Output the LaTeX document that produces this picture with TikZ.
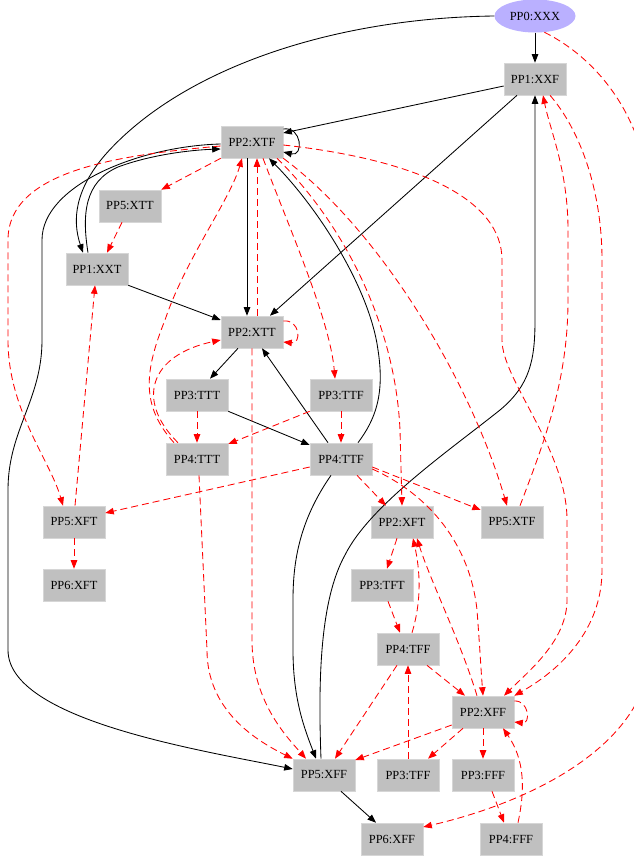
\documentclass[tikz,border=0pt]{standalone}
\usepackage{fontspec}
\setmainfont{Liberation Serif}
\usetikzlibrary{arrows.meta,shapes.geometric}

\definecolor{boxgray}{RGB}{192,192,192}
\definecolor{boxedge}{RGB}{214,214,214}
\definecolor{entryblue}{RGB}{186,176,255}

\begin{document}
\begin{tikzpicture}[
    x=1pt, y=-1pt,
    font=\fontsize{12.4}{14}\selectfont,
    ppbox/.style={
        draw=boxedge,
        line width=0.6pt,
        fill=boxgray,
        minimum width=62pt,
        minimum height=32pt,
        inner sep=0pt
    },
    entry/.style={ellipse, fill=entryblue, minimum width=81pt, minimum height=33pt, inner sep=0pt},
    flow/.style={-{Triangle[length=8.5pt,width=6.5pt]}, line width=0.85pt},
    flowneg/.style={flow, red, dash pattern=on 7pt off 4pt}
]

\path[use as bounding box] (0,0) rectangle (634,860);
\clip (0,0) rectangle (634,860);

\node[entry] (pp0xxx) at (535,16) {PP0:XXX};
\node[ppbox] (pp1xxf) at (535,79) {PP1:XXF};
\node[ppbox] (pp2xtf) at (252,142) {PP2:XTF};
\node[ppbox] (pp5xtt) at (130,206) {PP5:XTT};
\node[ppbox] (pp1xxt) at (97,269) {PP1:XXT};
\node[ppbox] (pp2xtt) at (252,332) {PP2:XTT};
\node[ppbox] (pp3ttt) at (197,395) {PP3:TTT};
\node[ppbox] (pp3ttf) at (341,395) {PP3:TTF};
\node[ppbox] (pp4ttt) at (197,459) {PP4:TTT};
\node[ppbox] (pp4ttf) at (341,459) {PP4:TTF};
\node[ppbox] (pp5xft) at (74,522) {PP5:XFT};
\node[ppbox] (pp2xft) at (402,522) {PP2:XFT};
\node[ppbox] (pp5xtf) at (512,522) {PP5:XTF};
\node[ppbox] (pp6xft) at (74,585) {PP6:XFT};
\node[ppbox] (pp3tft) at (382,585) {PP3:TFT};
\node[ppbox] (pp4tff) at (408,649) {PP4:TFF};
\node[ppbox] (pp2xff) at (483,712) {PP2:XFF};
\node[ppbox] (pp5xff) at (324,775) {PP5:XFF};
\node[ppbox] (pp3tff) at (408,775) {PP3:TFF};
\node[ppbox] (pp3fff) at (483,775) {PP3:FFF};
\node[ppbox] (pp6xff) at (392,839) {PP6:XFF};
\node[ppbox] (pp4fff) at (511,839) {PP4:FFF};

\draw[flow] (pp0xxx) -- (pp1xxf);
\draw[flow] (pp0xxx.west) .. controls (330,18) and (180,70) .. (105,155) .. controls (75,190) and (72,220) .. ([xshift=-14pt]pp1xxt.north);
\draw[flow] ([yshift=-7pt]pp1xxf.west) -- ([yshift=9pt]pp2xtf.east);
\draw[flow] ([yshift=13pt]pp2xtf.east) .. controls (302,126) and (304,157) .. ([yshift=-10pt]pp2xtf.east);
\draw[flow] ([xshift=-9pt]pp1xxt.north) .. controls (82,215) and (84,182) .. (118,167) .. controls (150,155) and (190,150) .. ([yshift=-7pt]pp2xtf.west);
\draw[flow] ([yshift=-2pt]pp2xtf.west) .. controls (140,146) and (42,185) .. (42,240) -- (42,340) .. controls (42,400) and (8,430) .. (8,490) -- (8,650) .. controls (8,720) and (200,750) .. ([yshift=6pt]pp5xff.west);
\draw[flow] ([xshift=-5pt]pp2xtf.south) -- ([xshift=-5pt]pp2xtt.north);
\draw[flow] ([xshift=-18pt]pp1xxf.south) -- ([xshift=18pt]pp2xtt.north);
\draw[flow] (pp1xxt.south east) -- ([yshift=12pt]pp2xtt.west);
\draw[flow] ([xshift=-14pt]pp2xtt.south) -- ([xshift=13pt]pp3ttt.north);
\draw[flow] (pp3ttt.south east) -- ([yshift=14pt]pp4ttf.west);
\draw[flow] ([xshift=-13pt]pp4ttf.north) -- ([xshift=10pt]pp2xtt.south);
\draw[flow] ([xshift=17pt]pp4ttf.north) .. controls (375,420) and (385,395) .. (378,350) .. controls (370,290) and (320,210) .. ([xshift=17pt]pp2xtf.south);
\draw[flow] ([xshift=-10pt]pp4ttf.south) .. controls (300,520) and (293,560) .. (293,600) -- (293,650) .. controls (293,700) and (305,730) .. ([xshift=-8pt]pp5xff.north);
\draw[flow] ([xshift=-3pt]pp5xff.north) .. controls (318,680) and (320,600) .. (345,555) .. controls (370,505) and (450,450) .. (500,410) .. controls (530,385) and (535,360) .. (535,320) -- (pp1xxf.south);
\draw[flow] ([xshift=17pt]pp5xff.south) -- ([xshift=-16pt]pp6xff.north);

\draw[flowneg] (pp0xxx.-60) .. controls (600,60) and (645,120) .. (650,200) -- (650,650) .. controls (650,740) and (540,800) .. ([yshift=12pt]pp6xff.east);
\draw[flowneg] (pp2xtf.south west) -- (pp5xtt.north east);
\draw[flowneg] ([xshift=-8pt]pp5xtt.south) -- ([xshift=10pt]pp1xxt.north);
\draw[flowneg] ([xshift=1pt]pp5xft.north) -- ([xshift=-2pt]pp1xxt.south);
\draw[flowneg] ([yshift=-4pt]pp2xtf.west) .. controls (120,155) and (8,170) .. (8,240) -- (8,340) .. controls (8,410) and (50,460) .. ([xshift=-11pt]pp5xft.north);
\draw[flowneg] (pp5xft) -- (pp6xft);
\draw[flowneg] ([yshift=11pt]pp2xtt.east) .. controls (300,319) and (302,344) .. ([yshift=-10pt]pp2xtt.east);
\draw[flowneg] ([xshift=-19pt]pp4ttt.north) .. controls (135,400) and (150,355) .. ([yshift=-8pt]pp2xtt.west);
\draw[flowneg] ([xshift=-23pt]pp4ttt.north) .. controls (140,405) and (145,370) .. (165,320) .. controls (185,260) and (230,200) .. ([xshift=-10pt]pp2xtf.south);
\draw[flowneg] (pp3ttt) -- (pp4ttt);
\draw[flowneg] (pp3ttf.south west) -- ([yshift=15pt]pp4ttt.east);
\draw[flowneg] (pp3ttf) -- (pp4ttf);
\draw[flowneg] ([xshift=11pt]pp2xtf.south) .. controls (290,230) and (330,320) .. ([xshift=-6pt]pp3ttf.north);
\draw[flowneg] ([xshift=5pt]pp2xtt.north) -- ([xshift=5pt]pp2xtf.south);
\draw[flowneg] (pp2xtt.south) -- (252,640) .. controls (252,700) and (285,735) .. ([xshift=-18pt]pp5xff.north);
\draw[flowneg] ([xshift=2pt]pp4ttt.south) -- (207,650) .. controls (207,710) and (255,740) .. (pp5xff.north west);
\draw[flowneg] ([xshift=25pt]pp2xtf.south) .. controls (340,220) and (395,320) .. (400,430) -- (pp2xft.north);
\draw[flowneg] (pp2xtf.south east) .. controls (380,230) and (470,380) .. ([xshift=-5pt]pp5xtf.north);
\draw[flowneg] ([yshift=-3pt]pp2xtf.east) .. controls (420,160) and (502,200) .. (502,260) -- (502,340) .. controls (502,380) and (567,450) .. (567,520) -- (567,600) .. controls (567,640) and (530,670) .. ([xshift=21pt]pp2xff.north);
\draw[flowneg] ([xshift=8pt]pp5xtf.north) .. controls (545,440) and (568,380) .. (568,300) -- (568,230) .. controls (568,170) and (550,130) .. ([xshift=8pt]pp1xxf.south);
\draw[flowneg] ([xshift=15pt]pp1xxf.south) .. controls (580,130) and (602,190) .. (602,260) -- (602,570) .. controls (602,630) and (560,670) .. (pp2xff.north east);
\draw[flowneg] ([yshift=-8pt]pp4ttf.west) -- ([yshift=9pt]pp5xft.east);
\draw[flowneg] ([xshift=16pt]pp4ttf.south) -- ([xshift=-16pt]pp2xft.north);
\draw[flowneg] ([yshift=-8pt]pp4ttf.east) -- ([yshift=12pt]pp5xtf.west);
\draw[flowneg] ([yshift=-10pt]pp4ttf.east) .. controls (430,495) and (470,545) .. (477,610) .. controls (480,650) and (481,670) .. (pp2xff.north);
\draw[flowneg] ([xshift=-5pt]pp2xft.south) -- ([xshift=5pt]pp3tft.north);
\draw[flowneg] ([xshift=6pt]pp3tft.south) -- ([xshift=-8pt]pp4tff.north);
\draw[flowneg] ([xshift=4pt]pp4tff.north) .. controls (422,600) and (420,570) .. ([xshift=11pt]pp2xft.south);
\draw[flowneg] ([xshift=-6pt]pp2xff.north) .. controls (460,640) and (430,580) .. ([xshift=15pt]pp2xft.south);
\draw[flowneg] ([xshift=19pt]pp4tff.south) -- ([xshift=-18pt]pp2xff.north);
\draw[flowneg] ([xshift=-11pt]pp4tff.south) -- ([xshift=11pt]pp5xff.north);
\draw[flowneg] ([yshift=11pt]pp2xff.east) .. controls (529,700) and (531,724) .. ([yshift=-10pt]pp2xff.east);
\draw[flowneg] ([yshift=-13pt]pp2xff.west) -- ([yshift=15pt]pp5xff.east);
\draw[flowneg] ([xshift=-20pt]pp2xff.south) -- ([xshift=20pt]pp3tff.north);
\draw[flowneg] (pp2xff) -- (pp3fff);
\draw[flowneg] (pp3tff) -- (pp4tff);
\draw[flowneg] ([xshift=9pt]pp3fff.south) -- ([xshift=-7pt]pp4fff.north);
\draw[flowneg] ([xshift=7pt]pp4fff.north) .. controls (525,790) and (525,760) .. ([xshift=20pt]pp2xff.south);

\end{tikzpicture}
\end{document}
